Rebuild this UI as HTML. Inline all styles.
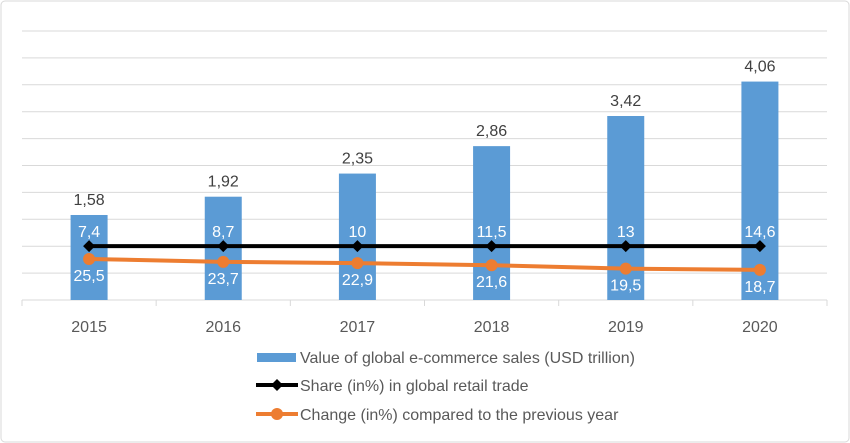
<!DOCTYPE html>
<html><head><meta charset="utf-8"><style>
html,body{margin:0;padding:0;background:#fff}
svg{display:block;font-family:"Liberation Sans",sans-serif}
</style></head><body>
<svg id="chart" width="850" height="443">
<rect x="1" y="1" width="848" height="441" rx="4" fill="#fff" stroke="#d9d9d9"/>
<g id="grid"></g><g id="bars"></g><g id="lines"></g><g id="labels"></g><g id="legend"></g>
</svg>
<script>
const categories=["2015","2016","2017","2018","2019","2020"];
const salesValues=[1.58,1.92,2.35,2.86,3.42,4.06];
const shareValues=[7.4,8.7,10,11.5,13,14.6];
const shareLevel=[33.5,33.5,33.5,33.5,33.5,33.5];
const changeValues=[25.5,23.7,22.9,21.6,19.5,18.7];
const gridTicks=[0,0.5,1,1.5,2,2.5,3,3.5,4,4.5,5];
const NS="http://www.w3.org/2000/svg";
const L=22,R=827,B=300,T=31;
const bw=(R-L)/categories.length;
const xC=i=>L+bw*(i+0.5);
const yP=v=>B-(B-T)*v/5;
const yS=v=>B-v*1.61;
const fmt=v=>String(v).replace('.',',');
function mk(tag,attrs,parent){const e=document.createElementNS(NS,tag);for(const k in attrs)e.setAttribute(k,attrs[k]);document.getElementById(parent).appendChild(e);return e;}
gridTicks.forEach(t=>{if(t===0)return;const g=mk('line',{x1:L,x2:R,y1:yP(t),y2:yP(t),stroke:'#d9d9d9','stroke-width':1},'grid');

});
const ax=mk('line',{x1:L,x2:R,y1:B,y2:B,stroke:'#d9d9d9','stroke-width':1},'grid');


for(let i=0;i<=categories.length;i++){const tk=mk('line',{x1:L+bw*i,x2:L+bw*i,y1:B,y2:B+6,stroke:'#d9d9d9'},'grid');

}
categories.forEach((c,i)=>{
 const b=mk('rect',{x:xC(i)-18.5,y:yP(salesValues[i]),width:37,height:B-yP(salesValues[i]),fill:'#5b9bd5'},'bars');
 
 
 const tl=mk('text',{x:xC(i),y:yP(salesValues[i])-10,'text-anchor':'middle','font-size':16,fill:'#404040'},'labels');tl.textContent=fmt(salesValues[i]);
 
 
 const sl=mk('text',{x:xC(i),y:yS(shareLevel[i])-9,'text-anchor':'middle','font-size':16,fill:'#fff'},'labels');sl.textContent=fmt(shareValues[i]);
 
 
 const cl=mk('text',{x:xC(i),y:yS(changeValues[i])+22,'text-anchor':'middle','font-size':16,fill:'#fff'},'labels');cl.textContent=fmt(changeValues[i]);
 
 
 const xl=mk('text',{x:xC(i),y:332,'text-anchor':'middle','font-size':16,fill:'#595959'},'labels');xl.textContent=c;
 
 
});
const sp=mk('polyline',{points:shareLevel.map((v,i)=>xC(i)+','+yS(v)).join(' '),fill:'none',stroke:'#000','stroke-width':4},'lines');


const cp=mk('polyline',{points:changeValues.map((v,i)=>xC(i)+','+yS(v)).join(' '),fill:'none',stroke:'#ed7d31','stroke-width':4},'lines');


categories.forEach((c,i)=>{
 const x=xC(i),y=yS(shareLevel[i]);
 const d=mk('polygon',{points:`${x-6},${y} ${x},${y-6} ${x+6},${y} ${x},${y+6}`,fill:'#000'},'lines');
 
 
 const o=mk('circle',{cx:x,cy:yS(changeValues[i]),r:6,fill:'#ed7d31'},'lines');
 
 
});
const leg=[["bar","Value of global e-commerce sales (USD trillion)",357],["share","Share (in%) in global retail trade",385],["change","Change (in%) compared to the previous year",414]];
leg.forEach(([k,t,y])=>{
 if(k==="bar"){const s=mk('rect',{x:257,y:y-4,width:39,height:9,fill:'#5b9bd5'},'legend');
  
  }
 else if(k==="share"){const s=mk('line',{x1:256,x2:298,y1:y,y2:y,stroke:'#000','stroke-width':4},'legend');
  
  
  mk('polygon',{points:`271,${y} 277,${y-6} 283,${y} 277,${y+6}`,fill:'#000'},'legend');}
 else {const s=mk('line',{x1:256,x2:298,y1:y,y2:y,stroke:'#ed7d31','stroke-width':4},'legend');
  
  
  mk('circle',{cx:277,cy:y,r:6,fill:'#ed7d31'},'legend');}
 const tx=mk('text',{x:300,y:y+6,'font-size':16,fill:'#595959'},'legend');tx.textContent=t;
 
 
});
</script>
</body></html>
